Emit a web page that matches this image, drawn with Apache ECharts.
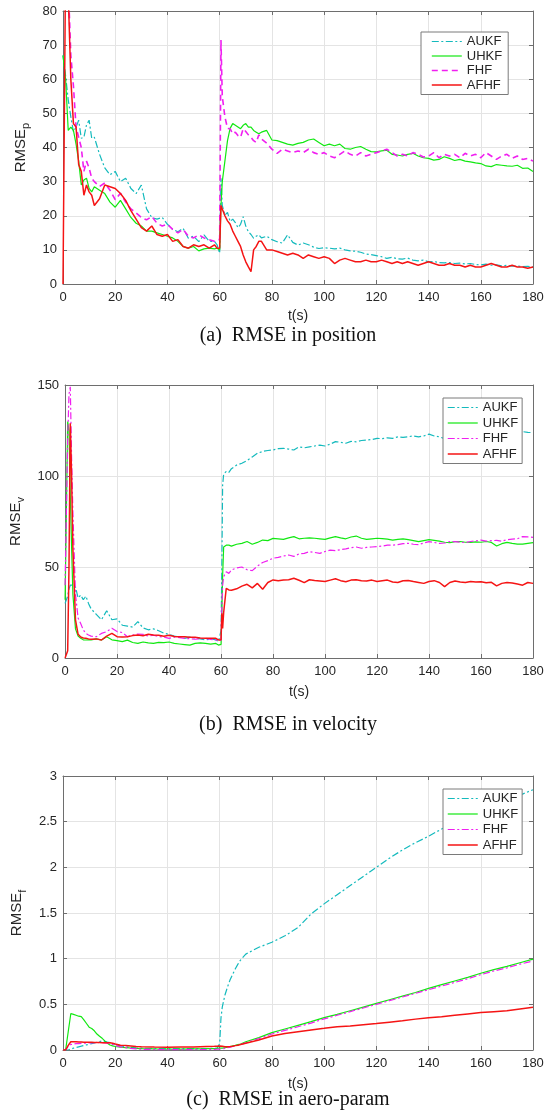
<!DOCTYPE html>
<html>
<head>
<meta charset="utf-8">
<script src="https://cdn.jsdelivr.net/npm/echarts@6/dist/echarts.min.js"></script>
<style>
  html, body { margin: 0; padding: 0; background: #fff; }
  #main { width: 550px; height: 1113px; }
</style>
</head>
<body>
<div id="main"></div>
<script>
// ---- (a) position ----
var T_POS = [0,1,2,3,4,5,6,7,8,9,10,11,12,
  14,16,18,20,22,24,26,28,30,32,34,36,38,40,42,44,46,48,50,52,54,56,58,
  59,60,60.5,61,
  62,63,64,65,66,67,68,69,70,71,72,73,74,75,76,
  78,80,82,84,86,88,90,92,94,96,98,100,102,104,106,108,110,112,114,116,118,120,122,124,126,128,
  130,132,134,136,138,140,142,144,146,148,150,152,154,156,158,160,162,164,166,168,170,172,174,176,178,180];
var POS_AUKF = [67,61,54,49,44.6,46,48,42.7,43,46.6,48,42.7,43,
  38,34,32,33,30,31,28,26.5,29,22,19.5,19,19.5,17.5,16,15.3,16.3,13.4,14,12.4,14.4,12.5,12.5,
  11.5,9,31,23,
  20.2,21,18.3,19,18,16.5,17.5,19.7,17,15.3,14.5,13.4,14,14.4,13.5,
  14,13,12.4,12,14.4,12.2,11.4,12,11.5,10.8,10.4,10.6,10.5,10.3,10.5,10,9.7,9.6,9.3,8.8,8.6,8.3,8,7.5,7.8,
  7.4,7.3,7.6,7,6.8,7,6.5,6.6,6.3,6.2,6.3,6,6.1,5.9,6,5.7,5.6,5.8,5.5,5.6,5.3,5.5,5.2,5.3,5.1,5.2,5];
var POS_UHKF = [67,60,45,46,45,41,36,29,30.5,31,28,27,28.5,
  27.5,26.5,24,22.5,24.5,22,19.5,17.8,17,15.5,15.5,15,14.5,14,13.5,12.5,11,10.5,11,9.7,10.3,10.5,10.3,
  10.5,10,23,30,
  36,42,45.6,47,46.5,46,45.5,46.5,47,46,46,45,44.5,44,44.5,
  45,42.2,42,41.5,41,40.7,41.2,41.5,42.2,42.5,41.5,40.5,41,40.5,41,39.7,39.5,40,40.3,39.5,38.8,38.7,39,39.2,38,
  37.8,37.5,38,38.3,37.5,37,36.8,36.3,36.5,37.3,36.8,36.2,36.5,36,35.8,35.5,35.3,34.6,34.4,35,34.8,34.6,34.5,34.8,33.9,34,33];
var POS_FHF = [90,95,88,67,58,46,43,40,33,36,34,31,30,
  28.6,29.6,27.5,24.7,26.6,24,22,20.8,19.5,18.8,19.8,17.8,17,17.5,16,15,16,14,13.5,14.4,13.5,13,12.5,
  13,13,71.5,55,
  49,45.6,45.5,44,44.5,43.5,43,45.5,44.7,43.7,43,42,41.5,43.7,42.5,
  41.3,39.5,38.3,39.5,39,38.5,39,38.5,39.5,38.5,38,38.5,37.5,37,38,39,38,37.5,38.5,37.5,38,38.5,39,39.5,38.5,
  37.5,38,37.5,38.5,38,37.2,37.5,38.5,37,38,37.5,38,37,38.3,37.5,38,37,38.5,37.5,36.5,37.5,38,36.8,37.5,36.5,36.8,36];
var POS_AFHF = [0,95,85,60,47,46,35,33,26,29,27,26,23,
  25,29,28.5,28,26.5,24.5,21.5,19,16.5,15.5,17,14.5,14,14.5,12.5,13,11,10.5,11.5,11,11.5,10.5,11.5,
  10.5,10.5,23,22,
  20,18.5,17.5,15.5,14,12.5,11,8.5,6.5,5,3.6,10,11,12.5,12.5,
  10,10,9.5,9,8.5,9,8.5,7.5,8.5,8,7.5,8,7.5,6,7,7.5,7,6.5,6.5,7,6.5,6.5,7,6.5,6,
  6.5,6,6.5,6,5.5,6,6.5,6,5.5,5.5,6,5.5,5.5,5,5.5,5,5,5.5,6,5.5,5,5,5.5,5,5,4.6,5];

// ---- (b) velocity ----
var T_VEL = [0,1,1.5,2,2.5,3,4,5,6,7,8,9,10,
  12,14,16,18,20,22,24,26,28,30,32,34,36,38,40,42,44,46,48,50,52,54,56,58,
  59,60,60.3,60.6,61,62,63,64,
  66,68,70,72,74,76,78,80,82,84,86,88,90,92,94,96,98,100,102,104,106,108,110,112,114,116,118,120,122,
  124,126,128,130,132,134,136,138,140,142,144,146,148,150,152,154,156,158,160,162,164,166,168,170,172,174,176,178,180];
var VEL_AUKF = [30,34,38,40,40,40,39,33,34.6,32,34,30,27,
  24,21,26,21,21.5,18,17.5,17,20,16.5,15.5,16,15,13.6,13,12,11.5,10.8,11.5,11,10.5,9.9,10.5,10,
  9,15,50,95,101,102.5,102,104,
  106,107,108.5,110.5,112.5,113.5,114,114.3,115,115.2,114.8,114.3,116,115.5,116,116.5,117,116.5,117.5,118.9,
  118.5,118,119,118.8,119.5,119.8,120,120.7,120.5,121,120.7,121.5,121.2,121.6,122,121.5,122,123,122,121.5,
  120.5,119.8,120.5,121,121.5,122,122.5,123,122.5,123,123.5,123,123.5,124,123.5,124.4,124,123.8];
var VEL_UHKF = [32,130,125,90,61,35,16,12,10.8,10,9.9,10,9.9,
  10.5,9.9,11.7,10,9.5,9,9.8,8.5,8,8.8,8.3,8,8.6,8.4,8.8,8,7.7,7.4,7.1,8,8.3,8,7.6,8,
  7.1,7.5,24.5,45,61,62,62,61.5,
  62.5,63,64,62.5,63.5,64.8,64.5,65.7,65.5,65.2,66,66.7,65.5,65.8,66,65.8,65.5,65.2,66,66.7,
  66,65.5,66.5,67,65.8,65.2,65.5,65.8,65.6,65.3,64.8,65.2,65.5,65,64.5,63.9,64.5,65,64.6,64.2,
  63.6,63.4,63.9,64,63.6,63.5,63.8,63.6,64,63.5,61.5,62.8,63.5,63,62.6,62.6,63,63.4];
var VEL_FHF = [40,120,145,149,110,80,35,22,19,15.4,13.5,12.6,12,
  11.7,13.5,14.5,16.3,14.5,14,11.7,12.6,13.2,13,12,12.5,11.8,11.5,10.8,11.5,11.2,10.8,10.6,10.3,10.6,10.8,10.2,9.9,
  9.5,9.8,28,40,44.7,47.4,46.5,48.4,
  49.5,50,48.5,48,50.5,52.5,53.5,54.8,55.3,56,56.6,55.8,57.2,57.5,58.4,58,57.5,58.5,59.3,59,
  59.5,60,60.6,61,60.3,60.8,61,61.2,61.5,62,62,62.3,62.8,63,62.5,62.3,63.2,63.9,63.5,63,
  63.2,64,63.9,63.6,63.4,64,64.3,64.8,64.2,64.5,64.6,64.2,65,65.3,65.5,66.7,66.5,66.3];
var VEL_AFHF = [0,4,50,129,100,60,21,13,11.5,11,10.8,10.5,10.3,
  10.5,9.9,12,13.5,11.7,11.5,11.7,12.3,12.6,12.2,13,12.6,12.5,12,12.5,11.8,11.7,11.7,11.4,11.4,11,10.8,10.9,10.8,
  9.9,10,24.5,16.3,25,38.3,37.4,37.2,
  38,39.5,40.5,38.5,41,37.8,41.5,42.9,42.5,42.8,43,43.8,42.7,41.4,43,42.6,42.3,42,42.8,43.5,
  42.5,41.9,42.8,43,42.5,42.3,42.8,42,42.4,42.8,41.8,41.5,42.4,42.6,42,41.5,41,42,42.5,41.5,
  39.2,41.5,42.3,41.8,41.5,42,41.7,41.9,41.4,41.6,39.6,41,41.5,41.2,40.6,40,41.5,41];

// ---- (c) aero-param ----
var T_AERO = [0,1,2,3,4,5,6,7,8,9,10,11,12,13,14,15,16,17,18,19,20,
  22,24,26,28,30,35,40,45,50,55,58,59,60,
  60.5,61,62,63,64,65,66,67,68,
  70,75,80,85,90,95,100,105,110,115,120,125,130,135,140,145,150,155,160,165,170,175,180];
var AERO_AUKF = [0,0,0,0.01,0.02,0.028,0.035,0.042,0.05,0.056,0.062,0.07,0.077,0.085,0.092,0.1,0.095,0.087,0.08,0.07,0.06,
  0.045,0.035,0.028,0.023,0.02,0.017,0.015,0.015,0.015,0.016,0.018,0.02,0.07,
  0.35,0.47,0.6,0.69,0.77,0.83,0.89,0.94,0.985,
  1.05,1.125,1.18,1.25,1.34,1.49,1.6,1.7,1.8,1.9,2.0,2.1,2.19,2.27,2.34,2.42,2.48,2.55,2.62,2.68,2.74,2.79,2.85];
var AERO_UHKF = [0,0,0.2,0.4,0.39,0.38,0.37,0.365,0.33,0.29,0.25,0.235,0.21,0.175,0.15,0.128,0.1,0.075,0.055,0.045,0.038,
  0.03,0.026,0.022,0.018,0.015,0.012,0.01,0.01,0.012,0.014,0.016,0.018,0.02,
  0.02,0.02,0.025,0.03,0.035,0.045,0.05,0.06,0.065,
  0.09,0.135,0.19,0.23,0.27,0.31,0.355,0.39,0.43,0.47,0.51,0.55,0.59,0.63,0.675,0.715,0.755,0.795,0.84,0.88,0.915,0.955,0.995];
var AERO_FHF = [0,0,0.04,0.06,0.065,0.07,0.07,0.072,0.074,0.075,0.077,0.078,0.08,0.08,0.082,0.082,0.078,0.075,0.07,0.06,0.05,
  0.035,0.025,0.018,0.012,0.008,0.005,0.004,0.004,0.005,0.006,0.007,0.008,0.01,
  0.01,0.012,0.018,0.025,0.03,0.038,0.045,0.052,0.06,
  0.078,0.125,0.175,0.215,0.255,0.295,0.34,0.38,0.42,0.46,0.5,0.54,0.58,0.62,0.66,0.7,0.74,0.78,0.825,0.865,0.9,0.94,0.975];
var AERO_AFHF = [0,0,0.05,0.09,0.09,0.09,0.088,0.087,0.086,0.085,0.085,0.084,0.083,0.082,0.081,0.08,0.08,0.08,0.079,0.075,0.065,
  0.052,0.048,0.043,0.038,0.035,0.032,0.03,0.032,0.034,0.038,0.04,0.042,0.044,
  0.044,0.04,0.035,0.036,0.038,0.042,0.048,0.053,0.06,
  0.075,0.11,0.153,0.18,0.2,0.22,0.237,0.255,0.263,0.277,0.29,0.305,0.32,0.338,0.354,0.363,0.38,0.395,0.41,0.42,0.43,0.45,0.467];

var NAMES = ['AUKF', 'UHKF', 'FHF', 'AFHF'];
var CAPTIONS = ['(a)  RMSE in position', '(b)  RMSE in velocity', '(c)  RMSE in aero-param'];
var SUBS = ['p', 'v', 'f'];
var Y_MAX = [80, 150, 3];
var Y_STEP = [10, 50, 0.5];

var SANS = "'Liberation Sans', Arial, Helvetica, sans-serif";
var AXIS_COLOR = '#6e6e6e';
var TEXT_COLOR = '#262626';
var COLORS = ['#14babd', '#11e811', '#f01ff0', '#f51414'];
var DASHDOT = [7, 2.5, 2, 2.5];

// 每个子图的布局
var grids = [
  { left: 63, top: 11, width: 470, height: 273 },
  { left: 63, top: 385, width: 470, height: 273 },
  { left: 63, top: 776, width: 470, height: 274 }
];
var nameGapY = [27, 33, 31];
var nameGapX = [25, 27, 27];
var captionY = [336, 725, 1100];
var legendPos = [
  { left: 421, top: 32, padding: [3, 6, 3, 10], itemGap: 1.5 },
  { left: 443, top: 398, padding: [3, 4, 3, 4], itemGap: 2.5 },
  { left: 443, top: 789, padding: [3, 4, 3, 4], itemGap: 2.5 }
];

var chartData = [
  { t: T_POS, v: [POS_AUKF, POS_UHKF, POS_FHF, POS_AFHF] },
  { t: T_VEL, v: [VEL_AUKF, VEL_UHKF, VEL_FHF, VEL_AFHF] },
  { t: T_AERO, v: [AERO_AUKF, AERO_UHKF, AERO_FHF, AERO_AFHF] }
];

function lineStyleFor(k, s) {
  if (s === 0) return { color: COLORS[0], width: 1.2, type: DASHDOT };
  if (s === 1) return { color: COLORS[1], width: 1.2, type: 'solid' };
  if (s === 2) return k === 0
    ? { color: COLORS[2], width: 1.6, type: [6, 4] }
    : { color: COLORS[2], width: 1.2, type: DASHDOT };
  return { color: COLORS[3], width: 1.5, type: 'solid' };
}

var xAxes = [], yAxes = [], series = [], legends = [], graphics = [];

grids.forEach(function (g, k) {
  var tickStyle = { color: AXIS_COLOR, width: 1 };
  xAxes.push({
    gridIndex: k, type: 'value', min: 0, max: 180, interval: 20, position: 'bottom',
    axisLine: { show: true, onZero: false, lineStyle: tickStyle },
    axisTick: { show: true, inside: true, length: 4, lineStyle: tickStyle },
    axisLabel: { color: TEXT_COLOR, fontSize: 13, fontFamily: SANS, margin: 7 },
    splitLine: { show: true, lineStyle: { color: '#e4e4e4', width: 1 } },
    name: 't(s)', nameLocation: 'middle', nameGap: nameGapX[k],
    nameTextStyle: { color: TEXT_COLOR, fontSize: 14, fontFamily: SANS }
  });
  xAxes.push({
    gridIndex: k, type: 'value', min: 0, max: 180, interval: 20, position: 'top',
    axisLine: { show: true, onZero: false, lineStyle: tickStyle },
    axisTick: { show: true, inside: true, length: 4, lineStyle: tickStyle },
    axisLabel: { show: false }, splitLine: { show: false }
  });
  yAxes.push({
    gridIndex: k, type: 'value', min: 0, max: Y_MAX[k], interval: Y_STEP[k], position: 'left',
    axisLine: { show: true, onZero: false, lineStyle: tickStyle },
    axisTick: { show: true, inside: true, length: 4, lineStyle: tickStyle },
    axisLabel: { color: TEXT_COLOR, fontSize: 13, fontFamily: SANS, margin: 6 },
    splitLine: { show: true, lineStyle: { color: '#e4e4e4', width: 1 } },
    name: '{m|RMSE}{s|' + SUBS[k] + '}', nameLocation: 'middle', nameGap: nameGapY[k], nameRotate: 90,
    nameTextStyle: {
      rich: {
        m: { fontSize: 15, fontFamily: SANS, color: TEXT_COLOR, lineHeight: 22, verticalAlign: 'middle' },
        s: { fontSize: 11, fontFamily: SANS, color: TEXT_COLOR, lineHeight: 22, verticalAlign: 'bottom' }
      }
    }
  });
  yAxes.push({
    gridIndex: k, type: 'value', min: 0, max: Y_MAX[k], interval: Y_STEP[k], position: 'right',
    axisLine: { show: true, onZero: false, lineStyle: tickStyle },
    axisTick: { show: true, inside: true, length: 4, lineStyle: tickStyle },
    axisLabel: { show: false }, splitLine: { show: false }
  });

  var cd = chartData[k];
  NAMES.forEach(function (name, s) {
    var vals = cd.v[s];
    series.push({
      name: name, type: 'line', xAxisIndex: 2 * k, yAxisIndex: 2 * k,
      data: cd.t.map(function (t, i) { return [t, vals[i]]; }),
      symbol: 'none', showSymbol: false, clip: true, animation: false,
      itemStyle: { color: COLORS[s] },
      lineStyle: lineStyleFor(k, s)
    });
  });

  var lp = legendPos[k];
  legends.push({
    show: true, orient: 'vertical', left: lp.left, top: lp.top, padding: lp.padding, itemGap: lp.itemGap,
    itemWidth: 30, itemHeight: 14, selectedMode: false,
    backgroundColor: '#fff', borderColor: '#7a7a7a', borderWidth: 1,
    textStyle: { color: TEXT_COLOR, fontSize: 13, fontFamily: SANS },
    data: NAMES.map(function (name, s) {
      return { name: name, lineStyle: lineStyleFor(k, s), itemStyle: { opacity: 0 } };
    })
  });

  graphics.push({
    type: 'text', x: 288, y: captionY[k],
    style: { text: CAPTIONS[k], font: '20px "Liberation Serif", "Times New Roman", serif', fill: '#111', align: 'center', verticalAlign: 'middle' }
  });
});

var chart = echarts.init(document.getElementById('main'), null, { renderer: 'canvas' });
chart.setOption({
  backgroundColor: '#fff',
  animation: false,
  grid: grids,
  xAxis: xAxes,
  yAxis: yAxes,
  legend: legends,
  series: series,
  graphic: graphics
});
</script>
</body>
</html>
